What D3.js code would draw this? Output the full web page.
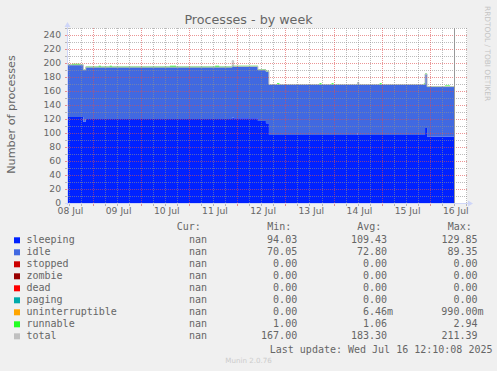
<!DOCTYPE html>
<html><head><meta charset="utf-8">
<script src="https://cdn.jsdelivr.net/npm/d3@7"></script>
<style>body{margin:0;background:#F0F0F0}svg{display:block}</style>
</head><body>
<script>
// ---- data (hours since 2025-07-08 11:00, step values) ----
const hours    = [0,2.7,6.7,8.3,9.5,16,17,21.5,22.5,51.5,54.5,74,76,82.5,83.2,95.3,99.3,100.8,104.8,106,126,127,132,133,145,145.6,156,157,178,178.6,179.6,188.5,191,193.17];
const sleeping = [123,123,123,116,120,120,120,120,120,120,120,120,120,122,121,117,114,97,97,97,97,97,97,97,100,97,97,97,97,107,95,95,95,95];
const idle     = [74,74,74,74,74,74,74,74,74,74,74,74,74,74,74,73,74,72,72,72,72,72,72,72,72,72,72,72,72,77,71,71,71,71];
const stopped  = [0,0,0,0,0,0,0,0,0,0,0,0,0,0,0,0,0,0,0,0,0,0,0,0,0,0,0,0,0,0,0,0,0,0];
const zombie   = [0,0,0,0,0,0,0,0,0,0,0,0,0,0,0,0,0,0,0,0,0,0,0,0,0,0,0,0,0,0,0,0,0,0];
const dead     = [0,0,0,0,0,0,0,0,0,0,0,0,0,0,0,0,0,0,0,0,0,0,0,0,0,0,0,0,0,0,0,0,0,0];
const paging   = [0,0,0,0,0,0,0,0,0,0,0,0,0,0,0,0,0,0,0,0,0,0,0,0,0,0,0,0,0,0,0,0,0,0];
const uninterruptible = [0,0,0,0,0,0,0,0,0,0,0,0,0,0,0,0,0,0,0,0,0,0,0,0,0,0,0,0,0,0,0,0,0,0];
const runnable = [1,2,1,1,1,2,1,2,1,2,1,2,1,1,1,1,1,1,2,1,2,1,2,1,1,1,2,1,2,1,1,2,1,1];
const total    = [198,198,198,191,195,195,195,195,195,195,195,195,195,204,196,191,189,170,170,170,170,170,170,170,173,170,170,170,170,185,167,167,167,167];

const seriesNames  = ["sleeping","idle","stopped","zombie","dead","paging","uninterruptible","runnable","total"];
const seriesColors = ["#0022FF","#4169E1","#CC0000","#990000","#FF0000","#00AAAA","#FFA500","#22FF22","#C0C0C0"];
const curVals = ["nan","nan","nan","nan","nan","nan","nan","nan","nan"];
const minVals = ["94.03","70.05","0.00","0.00","0.00","0.00","0.00","1.00","167.00"];
const avgVals = ["109.43","72.80","0.00","0.00","0.00","0.00","6.46m","1.06","183.30"];
const maxVals = ["129.85","89.35","0.00","0.00","0.00","0.00","990.00m","2.94","211.39"];
const yTickLabels = [0,20,40,60,80,100,120,140,160,180,200,220,240];

const titleText = "Processes - by week";
const yAxisTitle = "Number of processes";
const lastUpdate = "Last update: Wed Jul 16 12:10:08 2025";

// ---- layout ----
const W=497,H=371, X0=67, X1=467, YB=203, YT=28;
const base = new Date(2025,6,8,11,0,0);
const startTime = new Date(2025,6,8,11,10,0);
const endTime = new Date(2025,6,16,18,30,0);
const nowTime = new Date(2025,6,16,12,10,8);

const svg = d3.select("body").append("svg").attr("width",W).attr("height",H);
svg.append("rect").attr("width",W).attr("height",H).attr("fill","#F0F0F0");

const x = d3.scaleTime().domain([startTime,endTime]).range([X0,X1]);
const y = d3.scaleLinear().domain([0,250]).range([YB,YT]);

svg.append("rect").attr("x",X0).attr("y",YT).attr("width",X1-X0).attr("height",YB-YT).attr("fill","#FFFFFF");

const defs = svg.append("defs");
defs.append("clipPath").attr("id","clip").append("rect")
  .attr("x",X0).attr("y",YT).attr("width",x(nowTime)-X0).attr("height",YB-YT);

const minorCol="rgba(143,143,143,0.6)", majorCol="rgba(222,79,79,0.6)";
function dotPattern(id, horiz, col){
  const p = defs.append("pattern").attr("id",id).attr("patternUnits","userSpaceOnUse")
    .attr("x",0).attr("y",0).attr("width",horiz?2:1).attr("height",horiz?1:2);
  p.append("rect").attr("x",0).attr("y",0).attr("width",1).attr("height",1).attr("fill",col);
}
dotPattern("hMinor",true,minorCol); dotPattern("hMajor",true,majorCol);
dotPattern("vMinor",false,minorCol); dotPattern("vMajor",false,majorCol);

const series = {sleeping,idle,stopped,zombie,dead,paging,uninterruptible,runnable};
const keys = seriesNames.slice(0,8);
const rows = hours.map((h,i)=>{
  const r = {date:new Date(+base + h*3600e3), total: total[i]};
  keys.forEach(k=>r[k]=series[k][i]);
  return r;
});
const stacked = d3.stack().keys(keys)(rows);
const area = d3.area().x(d=>x(d.data.date)).y0(d=>y(d[0])).y1(d=>y(d[1])).curve(d3.curveStepAfter);
const g = svg.append("g").attr("clip-path","url(#clip)");
g.selectAll("path.a").data(stacked).join("path").attr("class","a")
  .attr("d",area).attr("fill",(d,i)=>seriesColors[i]);
g.append("path").datum(rows)
  .attr("d",d3.line().x(d=>x(d.date)).y(d=>y(d.total)+0.5).curve(d3.curveStepAfter))
  .attr("fill","none").attr("stroke","#C0C0C0").attr("stroke-width",1);

// ---- grid (dotted, via pixel patterns) ----
const grid = svg.append("g").attr("shape-rendering","crispEdges");
const hLines = d3.range(0,251,10);
hLines.forEach(v=>{
  const yy=Math.round(y(v)), major=(v%20===0);
  grid.append("rect").attr("x",X0-2).attr("y",yy).attr("width",2).attr("height",1).attr("fill",major?majorCol:minorCol);
  grid.append("rect").attr("x",X0).attr("y",yy).attr("width",X1-X0).attr("height",1)
    .attr("fill",major?"url(#hMajor)":"url(#hMinor)");
});
const minorTimes = d3.timeHour.every(6).range(startTime,endTime);
minorTimes.forEach(t=>{
  const xx=Math.round(x(t)), major=(t.getHours()===0);
  grid.append("rect").attr("x",xx).attr("y",YB+1).attr("width",1).attr("height",2).attr("fill",major?majorCol:minorCol);
  grid.append("rect").attr("x",xx).attr("y",YT).attr("width",1).attr("height",YB-YT)
    .attr("fill",major?"url(#vMajor)":"url(#vMinor)");
});

// ---- axes ----
const axisCol="#CFD6F8";
svg.append("rect").attr("x",X0-2).attr("y",YB).attr("width",X1-X0+4).attr("height",1).attr("fill",axisCol);
svg.append("rect").attr("x",X0).attr("y",YT-2).attr("width",1).attr("height",YB-YT+4).attr("fill",axisCol);
svg.append("path").attr("d",`M${X1+1},${YB-2.5}L${X1+6},${YB+0.5}L${X1+1},${YB+3.5}Z`).attr("fill",axisCol);
svg.append("path").attr("d",`M${X0-2.5},${YT-1}L${X0+0.5},${YT-6}L${X0+3.5},${YT-1}Z`).attr("fill",axisCol);

// now line
const xn = Math.round(x(nowTime));
svg.append("rect").attr("x",xn).attr("y",YT).attr("width",1).attr("height",YB-YT).attr("fill","#999999");

// ---- labels ----
const font="DejaVu Sans", txt="#666666";
svg.selectAll("text.yt").data(yTickLabels).join("text").attr("class","yt")
  .attr("x",61).attr("y",d=>y(d)+3.3).attr("text-anchor","end")
  .attr("font-family",font).attr("font-size",9.2).attr("fill",txt).text(d=>d);
const labelDays = d3.timeDay.range(new Date(2025,6,8), new Date(2025,6,17));
const fmt = d3.timeFormat("%d %b");
svg.selectAll("text.xt").data(labelDays).join("text").attr("class","xt")
  .attr("x",d=>x(d3.timeHour.offset(d,12))+1.8).attr("y",214.3).attr("text-anchor","middle")
  .attr("font-family",font).attr("font-size",9.2).attr("fill",txt).text(d=>fmt(d));

svg.append("text").attr("x",248.5).attr("y",24).attr("text-anchor","middle")
  .attr("font-family",font).attr("font-size",12.7).attr("fill",txt).text(titleText);
svg.append("text").attr("transform","translate(15,114.5) rotate(-90)").attr("text-anchor","middle")
  .attr("font-family",font).attr("font-size",11.2).attr("fill",txt).text(yAxisTitle);
svg.append("text").attr("transform","translate(485,6) rotate(90)").attr("text-anchor","start")
  .attr("font-family",font).attr("font-size",7.4).attr("fill","#C4C4C4").text("RRDTOOL / TOBI OETIKER");

// ---- legend ----
const mono="DejaVu Sans Mono", fs=10;
const hdrY=230.3;
[["Cur:",176.7],["Min:",267.3],["Avg:",357.3],["Max:",447.7]].forEach(([t,xx])=>{
  svg.append("text").attr("x",xx).attr("y",hdrY).attr("font-family",mono).attr("font-size",fs).attr("fill",txt).text(t);
});
const cols=[[curVals,207],[minVals,297.2],[avgVals,387],[maxVals,477.5]];
seriesNames.forEach((n,i)=>{
  const cy = 240.3 + 12*i;
  svg.append("rect").attr("x",14).attr("y",cy-3).attr("width",6).attr("height",6).attr("fill",seriesColors[i]);
  svg.append("text").attr("x",26.5).attr("y",cy+3).attr("font-family",mono).attr("font-size",fs).attr("fill",txt).text(n);
  cols.forEach(([arr,xe])=>{
    const v=arr[i]; const hasUnit=/[a-zA-Z]$/.test(v) && v!=="nan";
    svg.append("text").attr("x",xe+(hasUnit?6:0)).attr("y",cy+3).attr("text-anchor","end")
      .attr("font-family",mono).attr("font-size",fs).attr("fill",txt).text(v);
  });
});
svg.append("text").attr("x",492.5).attr("y",352.6).attr("text-anchor","end")
  .attr("font-family",mono).attr("font-size",fs).attr("fill",txt).text(lastUpdate);
svg.append("text").attr("x",248.5).attr("y",362.5).attr("text-anchor","middle")
  .attr("font-family",font).attr("font-size",7.1).attr("fill","#CCCCCC").text("Munin 2.0.76");
</script>
</body></html>
